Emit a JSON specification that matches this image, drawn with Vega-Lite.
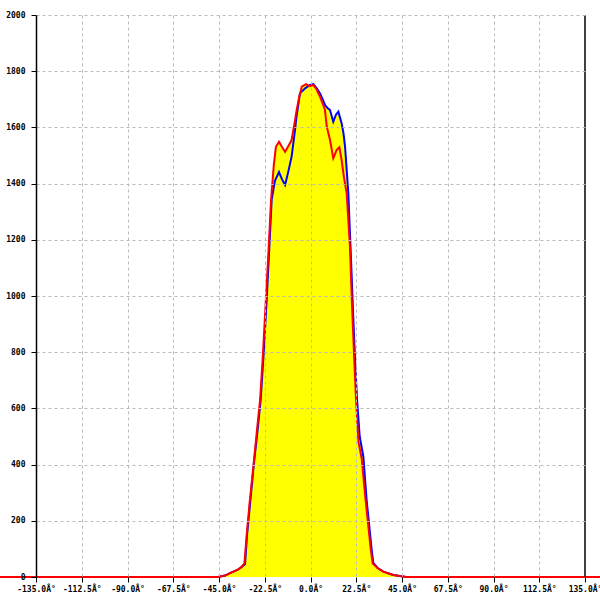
{
  "$schema": "https://vega.github.io/schema/vega-lite/v6.json",
  "width": 549,
  "height": 562,
  "autosize": {"type": "none"},
  "padding": {"left": 36, "top": 15, "right": 15, "bottom": 23},
  "background": "white",
  "config": {
    "view": {"stroke": null},
    "axis": {
      "labelFont": "DejaVu Sans Mono",
      "labelFontSize": 8,
      "labelFontWeight": "bold",
      "labelColor": "#000000",
      "tickColor": "#000000",
      "tickSize": 5,
      "domainColor": "#000000",
      "domainWidth": 1.5,
      "gridColor": "#bbbbbb",
      "gridDash": [3, 3],
      "gridWidth": 1,
      "labelOverlap": false,
      "labelFlush": false,
      "title": null
    }
  },
  "datasets": {
    "red": [
      {"a": -160, "v": 0}, {"a": -45.5, "v": 0}, {"a": -42, "v": 5}, {"a": -39.6, "v": 14}, {"a": -36, "v": 25},
      {"a": -34, "v": 35}, {"a": -32.5, "v": 48}, {"a": -31.5, "v": 140}, {"a": -30, "v": 260}, {"a": -28, "v": 400},
      {"a": -26.5, "v": 510}, {"a": -24.8, "v": 630}, {"a": -23.5, "v": 780}, {"a": -22, "v": 980}, {"a": -20.5, "v": 1180},
      {"a": -19.4, "v": 1342}, {"a": -18, "v": 1470}, {"a": -17, "v": 1531}, {"a": -15.5, "v": 1549}, {"a": -14, "v": 1530},
      {"a": -12.5, "v": 1513}, {"a": -10.8, "v": 1535}, {"a": -9.3, "v": 1555}, {"a": -7.6, "v": 1626}, {"a": -6.8, "v": 1662},
      {"a": -5.5, "v": 1710}, {"a": -4.3, "v": 1745}, {"a": -2.2, "v": 1754}, {"a": -0.6, "v": 1747}, {"a": 1.4, "v": 1751},
      {"a": 3, "v": 1735}, {"a": 4.7, "v": 1709}, {"a": 6, "v": 1685}, {"a": 7.1, "v": 1662}, {"a": 8, "v": 1603},
      {"a": 9.6, "v": 1555}, {"a": 11.2, "v": 1490}, {"a": 12.9, "v": 1520}, {"a": 14.2, "v": 1529}, {"a": 15.3, "v": 1484},
      {"a": 16.5, "v": 1420}, {"a": 17.8, "v": 1365}, {"a": 18.6, "v": 1270}, {"a": 19.4, "v": 1175}, {"a": 20.5, "v": 950},
      {"a": 21.6, "v": 760}, {"a": 22.4, "v": 630}, {"a": 23.6, "v": 480}, {"a": 25.2, "v": 420}, {"a": 27, "v": 280},
      {"a": 29.6, "v": 100}, {"a": 30.6, "v": 48}, {"a": 33, "v": 32}, {"a": 35.8, "v": 19}, {"a": 40.7, "v": 7},
      {"a": 45.6, "v": 2}, {"a": 47, "v": 0}, {"a": 160, "v": 0}
    ],
    "blue": [
      {"a": -45.5, "v": 0}, {"a": -42, "v": 5}, {"a": -39.6, "v": 14}, {"a": -36, "v": 25}, {"a": -34, "v": 35},
      {"a": -32.2, "v": 45}, {"a": -31.2, "v": 150}, {"a": -29.6, "v": 270}, {"a": -27.9, "v": 400}, {"a": -26.2, "v": 510},
      {"a": -24.5, "v": 630}, {"a": -23, "v": 800}, {"a": -21.6, "v": 980}, {"a": -20.2, "v": 1180}, {"a": -19.1, "v": 1342},
      {"a": -17.5, "v": 1410}, {"a": -15.5, "v": 1441}, {"a": -14, "v": 1415}, {"a": -12.5, "v": 1395}, {"a": -11, "v": 1440},
      {"a": -9.3, "v": 1496}, {"a": -7.6, "v": 1591}, {"a": -7.1, "v": 1626}, {"a": -5.2, "v": 1721}, {"a": -2.5, "v": 1740},
      {"a": -0.2, "v": 1751}, {"a": 1.4, "v": 1754}, {"a": 3, "v": 1740}, {"a": 4.7, "v": 1721}, {"a": 6, "v": 1700},
      {"a": 7.1, "v": 1680}, {"a": 8.5, "v": 1668}, {"a": 9.6, "v": 1662}, {"a": 11.2, "v": 1620}, {"a": 12.5, "v": 1645},
      {"a": 13.7, "v": 1656}, {"a": 15.3, "v": 1615}, {"a": 16.2, "v": 1580}, {"a": 17, "v": 1531}, {"a": 18.6, "v": 1366},
      {"a": 19.8, "v": 1153}, {"a": 21, "v": 930}, {"a": 22, "v": 760}, {"a": 22.9, "v": 630}, {"a": 24.2, "v": 500},
      {"a": 26, "v": 428}, {"a": 27.6, "v": 274}, {"a": 30.1, "v": 96}, {"a": 30.9, "v": 50}, {"a": 33, "v": 32},
      {"a": 35.8, "v": 19}, {"a": 40.7, "v": 7}, {"a": 45.6, "v": 2}, {"a": 47, "v": 0}
    ],
    "fill": [
      {"a": -45.5, "v": 0}, {"a": -42, "v": 5}, {"a": -39.6, "v": 14}, {"a": -36, "v": 25}, {"a": -34, "v": 35},
      {"a": -32.5, "v": 48}, {"a": -31.5, "v": 140}, {"a": -30, "v": 260}, {"a": -28, "v": 400}, {"a": -26.5, "v": 510},
      {"a": -24.8, "v": 630}, {"a": -23.5, "v": 780}, {"a": -22, "v": 980}, {"a": -20.5, "v": 1180}, {"a": -19.4, "v": 1342},
      {"a": -18, "v": 1470}, {"a": -17, "v": 1531}, {"a": -15.5, "v": 1549}, {"a": -14, "v": 1530}, {"a": -12.5, "v": 1513},
      {"a": -10.8, "v": 1535}, {"a": -9.3, "v": 1555}, {"a": -7.6, "v": 1626}, {"a": -6.8, "v": 1662}, {"a": -5.5, "v": 1715},
      {"a": -4.3, "v": 1745}, {"a": -2.2, "v": 1754}, {"a": -0.6, "v": 1750}, {"a": 1.4, "v": 1754}, {"a": 3, "v": 1740},
      {"a": 4.7, "v": 1721}, {"a": 6, "v": 1700}, {"a": 7.1, "v": 1680}, {"a": 8.5, "v": 1668}, {"a": 9.6, "v": 1662},
      {"a": 11.2, "v": 1620}, {"a": 12.5, "v": 1645}, {"a": 13.7, "v": 1656}, {"a": 15.3, "v": 1615}, {"a": 16.2, "v": 1580},
      {"a": 17, "v": 1531}, {"a": 18.6, "v": 1366}, {"a": 19.8, "v": 1153}, {"a": 21, "v": 930}, {"a": 22, "v": 760},
      {"a": 22.9, "v": 630}, {"a": 24.2, "v": 500}, {"a": 26, "v": 428}, {"a": 27.6, "v": 274}, {"a": 30.1, "v": 96},
      {"a": 30.9, "v": 50}, {"a": 33, "v": 32}, {"a": 35.8, "v": 19}, {"a": 40.7, "v": 7}, {"a": 45.6, "v": 2}, {"a": 47, "v": 0}
    ],
    "edge": [{"a": 135}]
  },
  "encoding": {
    "x": {
      "field": "a", "type": "quantitative",
      "scale": {"domain": [-135, 135], "nice": false, "zero": false}
    }
  },
  "layer": [
    {
      "data": {"name": "fill"},
      "mark": {"type": "area", "color": "#ffff00", "interpolate": "linear"},
      "encoding": {
        "x": {
          "field": "a", "type": "quantitative",
          "scale": {"domain": [-135, 135], "nice": false, "zero": false},
          "axis": {
            "values": [-135, -112.5, -90, -67.5, -45, -22.5, 0, 22.5, 45, 67.5, 90, 112.5, 135],
            "labelExpr": "(datum.value < 0 ? '-' : '') + format(abs(datum.value), '.1f') + 'Â°'",
            "domain": false,
            "grid": true,
            "gridOpacity": {"condition": {"test": "abs(datum.value) == 135", "value": 0}, "value": 1},
            "labelPadding": 3,
            "zindex": 1
          }
        },
        "y": {
          "field": "v", "type": "quantitative",
          "scale": {"domain": [0, 2000], "nice": false},
          "axis": {
            "values": [0, 200, 400, 600, 800, 1000, 1200, 1400, 1600, 1800, 2000],
            "format": "d",
            "grid": true,
            "gridOpacity": {"condition": {"test": "datum.value == 0", "value": 0}, "value": 1},
            "labelPadding": 6,
            "zindex": 1
          }
        }
      }
    },
    {
      "data": {"name": "blue"},
      "mark": {"type": "line", "color": "#0000ff", "strokeWidth": 2},
      "encoding": {
        "y": {"field": "v", "type": "quantitative"}
      }
    },
    {
      "data": {"name": "red"},
      "mark": {"type": "line", "color": "#ff0000", "strokeWidth": 2},
      "encoding": {
        "y": {"field": "v", "type": "quantitative"}
      }
    },
    {
      "data": {"name": "edge"},
      "mark": {"type": "rule", "color": "#000000", "strokeWidth": 1.5},
      "encoding": {}
    }
  ]
}
